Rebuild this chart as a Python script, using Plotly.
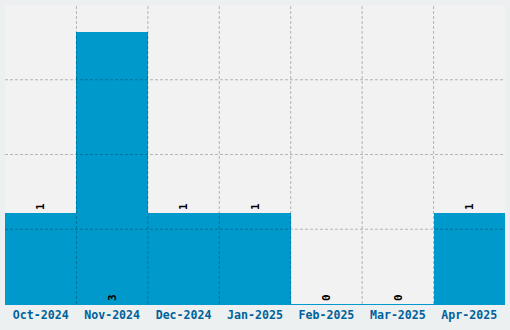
import plotly.graph_objects as go

months = ["Oct-2024", "Nov-2024", "Dec-2024", "Jan-2025", "Feb-2025", "Mar-2025", "Apr-2025"]
counts = [1, 3, 1, 1, 0, 0, 1]
positions = ["outside", "inside", "outside", "outside", "outside", "outside", "outside"]
y_max = 3.3
grid_step = 0.825

fig = go.Figure(go.Bar(
    x=months, y=counts,
    text=[str(c) for c in counts],
    textposition=positions,
    insidetextanchor="start",
    textangle=-90,
    textfont=dict(family="DejaVu Sans Mono", size=11, color="black", weight="bold"),
    constraintext="none",
    cliponaxis=False,
    marker=dict(color="#0099CC", line=dict(width=0)),
))

grid_line = dict(color="rgba(0,0,0,0.25)", width=1, dash="3px,2px")
shapes = []
for i in range(1, len(months)):
    shapes.append(dict(type="line", xref="x", yref="paper", x0=i - 0.5, x1=i - 0.5,
                       y0=0, y1=1, layer="above", line=grid_line))
k = 1
while k * grid_step < y_max - 1e-9:
    shapes.append(dict(type="line", xref="paper", yref="y", x0=0, x1=1,
                       y0=k * grid_step, y1=k * grid_step, layer="above", line=grid_line))
    k += 1

fig.update_layout(
    width=510, height=330,
    margin=dict(l=5, r=5, t=5, b=26),
    paper_bgcolor="#ECF0F1",
    plot_bgcolor="#F2F2F2",
    bargap=0,
    showlegend=False,
    shapes=shapes,
    xaxis=dict(
        type="category", showgrid=False,
        ticks="", showline=True, linecolor="#0099CC", linewidth=1,
        tickfont=dict(family="DejaVu Sans Mono", size=11.6, color="#00629B", weight="bold"),
        zeroline=False,
    ),
    yaxis=dict(
        range=[0, y_max], showticklabels=False, ticks="",
        showgrid=False, zeroline=False,
    ),
)

fig.write_html("out.html")
